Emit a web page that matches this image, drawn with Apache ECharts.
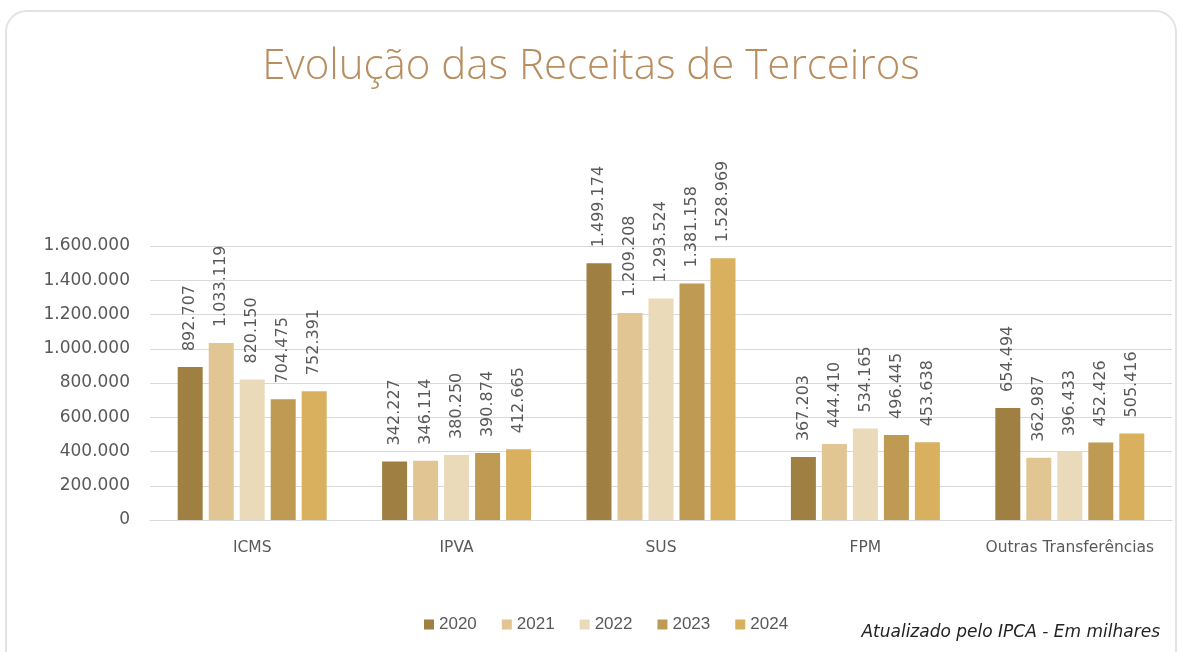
<!DOCTYPE html>
<html><head><meta charset="utf-8">
<script src="https://cdn.jsdelivr.net/npm/echarts@6/dist/echarts.min.js"></script>
<style>
html,body{margin:0;padding:0;background:#fff;width:1182px;height:652px;overflow:hidden}
#card{position:absolute;left:5px;top:10px;width:1172px;height:680px;border:2px solid #e3e3e3;border-radius:22px;box-sizing:border-box}
#chart{position:absolute;left:0;top:0;width:1182px;height:652px}
</style></head>
<body>
<div id="card"></div>
<div id="chart"></div>
<script>
const categories = ['ICMS','IPVA','SUS','FPM','Outras Transferências'];
const years = ['2020','2021','2022','2023','2024'];
const v2020 = [892707, 342227, 1499174, 367203, 654494];
const v2021 = [1033119, 346114, 1209208, 444410, 362987];
const v2022 = [820150, 380250, 1293524, 534165, 396433];
const v2023 = [704475, 390874, 1381158, 496445, 452426];
const v2024 = [752391, 412665, 1528969, 453638, 505416];
const colors = ['#A08042','#E1C592','#EBDABA','#BE9A52','#D8B05E'];
const seriesData = [v2020, v2021, v2022, v2023, v2024];

function fmt(n){ return String(n).replace(/\B(?=(\d{3})+(?!\d))/g,'.'); }

const chart = echarts.init(document.getElementById('chart'), null, {renderer:'canvas'});
chart.setOption({
  animation:false,
  color: colors,
  title:{
    text:'Evolução das Receitas de Terceiros',
    left:'center', top:41,
    textStyle:{fontFamily:'Open Sans', fontWeight:300, fontSize:42, color:'#B88D5F'}
  },
  legend:{
    data: years, bottom:14, left:419,
    itemWidth:10, itemHeight:10, itemGap:25, icon:'rect',
    textStyle:{fontFamily:'Liberation Sans', fontSize:17, color:'#595959'}
  },
  graphic:[{
    type:'text', right:22, bottom:11,
    style:{text:'Atualizado pelo IPCA - Em milhares', font:'italic 17px "DejaVu Sans"', fill:'#222'}
  }],
  grid:{left:150, right:10, top:246, bottom:132, containLabel:false},
  xAxis:{
    type:'category', data:categories,
    axisLine:{lineStyle:{color:'#d9d9d9'}}, axisTick:{show:false},
    axisLabel:{interval:0, fontFamily:'DejaVu Sans', fontSize:15.5, color:'#595959', margin:20}
  },
  yAxis:{
    type:'value', min:0, max:1600000, interval:200000,
    axisLabel:{formatter:v=>fmt(v), fontFamily:'DejaVu Sans', fontSize:17, color:'#595959', margin:20},
    splitLine:{lineStyle:{color:'#d9d9d9'}},
    axisLine:{show:false}, axisTick:{show:false}
  },
  series: years.map((y,i)=>({
    name:y, type:'bar', data:seriesData[i], barWidth:25, barGap:'24%',
    itemStyle:{color:colors[i]},
    label:{show:true, position:'top', rotate:90, align:'left', verticalAlign:'middle', distance:16,
      formatter:p=>fmt(p.value), fontFamily:'DejaVu Sans', fontSize:16, color:'#595959'}
  }))
});
</script>
</body></html>
